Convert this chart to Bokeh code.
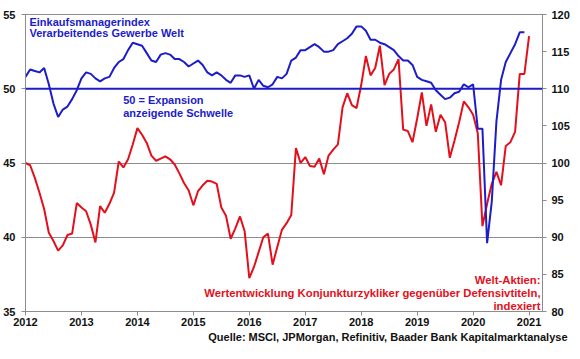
from bokeh.plotting import figure
from bokeh.models import Range1d, LinearAxis, FixedTicker, Span, Label, Title
from bokeh.embed import file_html
from bokeh.resources import INLINE

# ---- data (monthly, from Jan 2012) ----
start_year = 2012
pmi = [
    50.8, 51.3, 51.2, 51.1, 51.4, 50.3, 49.0, 48.1, 48.6, 48.8, 49.3, 49.9,   # 2012
    50.7, 51.1, 51.0, 50.7, 50.5, 50.7, 50.8, 51.4, 51.8, 52.0, 52.6, 53.1,   # 2013
    53.0, 52.9, 52.4, 51.9, 51.8, 52.3, 52.4, 52.3, 52.0, 52.0, 51.8, 51.5,   # 2014
    51.7, 51.9, 51.6, 51.1, 50.9, 51.1, 50.9, 50.6, 50.4, 50.9, 50.9, 50.8,   # 2015
    50.9, 50.0, 50.6, 50.2, 50.1, 50.3, 50.8, 50.7, 51.0, 51.9, 52.1, 52.6,   # 2016
    52.6, 52.8, 53.0, 52.8, 52.5, 52.5, 52.6, 53.0, 53.2, 53.4, 53.7, 54.2,   # 2017
    54.2, 53.9, 53.3, 53.3, 53.1, 53.0, 52.8, 52.6, 52.2, 51.9, 51.9, 51.6,   # 2018
    50.8, 50.6, 50.5, 50.4, 49.9, 49.6, 49.3, 49.4, 49.7, 49.8, 50.3, 50.1,   # 2019
    50.3, 47.3, 47.3, 39.6, 42.4, 47.8, 50.6, 51.8, 52.4, 53.0, 53.8, 53.8,   # 2020
]
cyclicals = [
    100.0, 99.7, 98.0, 96.0, 93.8, 90.6, 89.5, 88.2, 88.9, 90.3, 90.5, 94.6,          # 2012
    94.0, 93.5, 91.7, 89.3, 94.2, 93.3, 94.5, 96.0, 100.2, 99.4, 100.5, 102.5,        # 2013
    104.7, 103.8, 102.7, 101.0, 100.3, 100.6, 100.9, 100.5, 99.8, 98.6, 97.3, 96.3,   # 2014
    94.3, 96.2, 97.0, 97.6, 97.5, 97.2, 94.0, 92.9, 89.8, 91.2, 92.8, 90.8,           # 2015
    84.5, 86.0, 88.0, 90.0, 90.5, 86.3, 88.7, 91.0, 91.9, 93.0, 102.0, 100.0,         # 2016
    100.8, 99.6, 99.5, 100.6, 98.5, 101.0, 101.8, 102.5, 107.5, 109.4, 107.8, 107.4,  # 2017
    110.5, 114.4, 111.8, 112.8, 115.8, 110.5, 112.0, 112.6, 114.0, 104.5, 104.3, 102.8,  # 2018
    106.0, 109.5, 105.0, 107.9, 104.2, 106.5, 105.5, 100.7, 103.0, 105.5, 108.3, 107.5,  # 2019
    106.5, 104.0, 91.5, 94.5, 97.2, 98.8, 97.0, 102.3, 102.8, 104.2, 112.0, 112.0,    # 2020
    117.1,                                                                              # 2021
]
year_ticks = [2012, 2013, 2014, 2015, 2016, 2017, 2018, 2019, 2020, 2021]
year_labels = ["2012", "2013", "2014", "2015", "2016", "2017", "2018", "2019", "2020", "2021"]
left_ticks = [35, 40, 45, 50, 55]
right_ticks = [80, 85, 90, 95, 100, 105, 110, 115, 120]
threshold = 50

pmi_label = ["Einkaufsmanagerindex", "Verarbeitendes Gewerbe Welt"]
threshold_label = ["50 = Expansion", "anzeigende Schwelle"]
cyc_label = ["Welt-Aktien:", "Wertentwicklung Konjunkturzykliker gegenüber Defensivtiteln,", "indexiert"]
source_label = "Quelle: MSCI, JPMorgan, Refinitiv, Baader Bank Kapitalmarktanalyse"

x_pmi = [start_year + i / 12 for i in range(len(pmi))]
x_cyc = [start_year + i / 12 for i in range(len(cyclicals))]

BLUE = "#1c1cc8"
RED = "#e3101c"
GREY = "#8c8c8c"
FONT = "Liberation Sans"

W, H = 572, 343
ML, MR, MT, MB = 24, 28, 14, 30
X0, X1 = 2012.0, 2021.24
Y0, Y1 = 35.0, 55.0

p = figure(width=W, height=H, output_backend="svg", toolbar_location=None,
           x_range=Range1d(X0, X1), y_range=Range1d(Y0, Y1),
           min_border_left=ML, min_border_right=MR, min_border_top=MT, min_border_bottom=MB)
p.extra_y_ranges = {"right": Range1d(80, 120)}
p.background_fill_color = "white"
p.border_fill_color = "white"
p.outline_line_color = GREY
p.outline_line_width = 1

p.xgrid.visible = False
p.ygrid.ticker = FixedTicker(ticks=left_ticks)
p.ygrid.grid_line_color = GREY
p.ygrid.grid_line_width = 1

def style_axis(ax, tick_out=4):
    ax.axis_line_color = GREY
    ax.major_tick_line_color = GREY
    ax.major_tick_out = tick_out
    ax.major_tick_in = 0
    ax.minor_tick_line_color = None
    ax.major_label_text_font = FONT
    ax.major_label_text_font_style = "bold"
    ax.major_label_text_font_size = "11px"
    ax.major_label_text_color = "#111111"

xa = p.xaxis[0]
xa.ticker = FixedTicker(ticks=year_ticks)
xa.major_label_overrides = {t: l for t, l in zip(year_ticks, year_labels)}
style_axis(xa, 4)
xa.major_label_standoff = 2

ya = p.yaxis[0]
ya.ticker = FixedTicker(ticks=left_ticks)
style_axis(ya, 4)
ya.major_label_standoff = 6

ra = LinearAxis(y_range_name="right", ticker=FixedTicker(ticks=right_ticks))
style_axis(ra, 4)
ra.major_label_standoff = 5
p.add_layout(ra, "right")

# footer (source) as a title below the x axis
p.add_layout(Title(text=source_label, align="right", offset=-25, standoff=1,
                   text_font=FONT, text_font_style="bold", text_font_size="11px",
                   text_color="#111111"), "below")

p.add_layout(Span(location=threshold, dimension="width", line_color=BLUE, line_width=2))

p.line(x_cyc, cyclicals, y_range_name="right", line_color=RED, line_width=2)
p.line(x_pmi, pmi, line_color=BLUE, line_width=2)

# text positions measured on the reference picture (frame 24..548 x 16..321)
RX0, RX1, RY0, RY1 = 24, 548, 16, 321
def rdx(px):
    return X0 + (px - RX0) / (RX1 - RX0) * (X1 - X0)
def rdy(py):
    return Y1 - (py - RY0) / (RY1 - RY0) * (Y1 - Y0)

def add_text(txt, x, y, color, align="left", size="11px"):
    p.add_layout(Label(x=x, y=y, text=txt, text_color=color, text_font=FONT,
                       text_font_style="bold", text_font_size=size,
                       text_align=align, text_baseline="middle"))

for i, t in enumerate(pmi_label):
    add_text(t, rdx(28), rdy(24 + i * 11.5), BLUE)
for i, t in enumerate(threshold_label):
    add_text(t, rdx(123), rdy(104 + i * 13), BLUE)
for i, t in enumerate(cyc_label):
    add_text(t, rdx(546), rdy(289 + i * 13), RED, align="right", size="11.3px")

open("out.html", "w").write(file_html(p, INLINE))
